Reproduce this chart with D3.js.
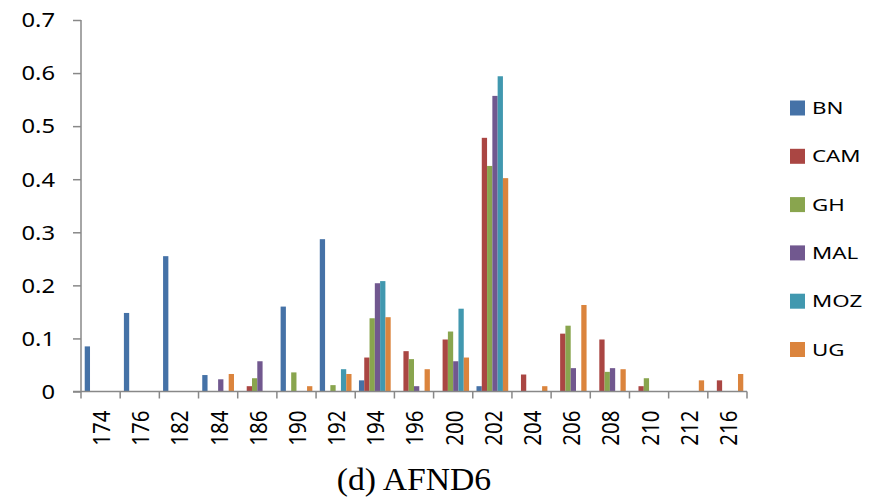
<!DOCTYPE html>
<html>
<head>
<meta charset="utf-8">
<script src="https://cdn.jsdelivr.net/npm/d3@7"></script>
<style>
  html, body { margin: 0; padding: 0; background: #fff; }
  svg { display: block; }
</style>
</head>
<body>
<svg id="chart" width="883" height="501"></svg>
<script>
// Allele sizes (categories) and allele frequencies per population
const categories = ["174","176","182","184","186","190","192","194","196","200","202","204","206","208","210","212","216"];
const seriesNames = ["BN","CAM","GH","MAL","MOZ","UG"];
const BN  = [0.085, 0.148, 0.255, 0.031, 0,     0.160, 0.287, 0.021, 0,     0,     0.010, 0,     0,     0,     0,     0,     0];
const CAM = [0,     0,     0,     0,     0.010, 0,     0,     0.064, 0.076, 0.098, 0.478, 0.032, 0.109, 0.098, 0.010, 0,     0.021];
const GH  = [0,     0,     0,     0,     0.025, 0.036, 0.012, 0.138, 0.061, 0.113, 0.425, 0,     0.124, 0.037, 0.025, 0,     0];
const MAL = [0,     0,     0,     0.023, 0.057, 0,     0,     0.204, 0.010, 0.057, 0.557, 0,     0.044, 0.044, 0,     0,     0];
const MOZ = [0,     0,     0,     0,     0,     0,     0.042, 0.208, 0,     0.156, 0.594, 0,     0,     0,     0,     0,     0];
const UG  = [0,     0,     0,     0.033, 0,     0.010, 0.033, 0.140, 0.042, 0.064, 0.402, 0.010, 0.163, 0.042, 0,     0.021, 0.033];
const yTicks = [0, 0.1, 0.2, 0.3, 0.4, 0.5, 0.6, 0.7];
const colors = ["#4572A7","#AA4643","#89A54E","#71588F","#4198AF","#DB843D"];
const title = "(d) AFND6";

const seriesValues = [BN, CAM, GH, MAL, MOZ, UG];

const svg = d3.select("#chart");
const plotLeft = 81, plotRight = 747, plotTop = 20, plotBottom = 391.5;
const axisColor = "#888888";
const sansFont = "'Noto Sans', 'Open Sans', sans-serif";
const stretch = 1.25;

const x0 = d3.scaleBand().domain(categories).range([plotLeft, plotRight]).padding(0);
const gap = x0.bandwidth() * 0.095;
const x1 = d3.scaleBand().domain(seriesNames).range([gap, x0.bandwidth() - gap]).padding(0);
const y = d3.scaleLinear().domain([0, 0.7]).range([plotBottom, plotTop]);
const color = d3.scaleOrdinal().domain(seriesNames).range(colors);

// Bars
const groups = svg.append("g").selectAll("g")
  .data(categories)
  .join("g")
  .attr("transform", d => `translate(${x0(d)},0)`);

groups.selectAll("rect")
  .data((c, i) => seriesNames.map((s, k) => ({ series: s, value: seriesValues[k][i] })).filter(d => d.value > 0))
  .join("rect")
  .attr("x", d => x1(d.series))
  .attr("width", x1.bandwidth())
  .attr("y", d => y(d.value))
  .attr("height", d => plotBottom - y(d.value))
  .attr("fill", d => color(d.series));

// Y axis
const yAxis = svg.append("g")
  .attr("transform", `translate(${plotLeft},0)`)
  .call(d3.axisLeft(y).tickValues(yTicks).tickSize(8).tickPadding(0).tickFormat(d => d === 0 ? "0" : d3.format(".1f")(d)));
yAxis.select(".domain").attr("stroke", axisColor).attr("stroke-width", 1.5).attr("d", `M0,${plotTop}V${plotBottom}`);
yAxis.selectAll(".tick line").attr("stroke", axisColor).attr("stroke-width", 1.5);
yAxis.selectAll(".tick text")
  .attr("font-family", sansFont)
  .attr("font-size", 19)
  .attr("fill", "#000")
  .attr("text-anchor", "end")
  .attr("x", 0)
  .attr("dy", "0.36em")
  .attr("transform", `translate(-26,0) scale(${stretch},1)`);

// X axis
const xAxis = svg.append("g")
  .attr("transform", `translate(0,${plotBottom})`)
  .call(d3.axisBottom(x0).tickSize(0).tickPadding(0));
xAxis.select(".domain").remove();
xAxis.append("path")
  .attr("d", `M${plotLeft - 8},0H${plotRight}`)
  .attr("stroke", axisColor)
  .attr("stroke-width", 1.5)
  .attr("fill", "none");
xAxis.selectAll(".boundary")
  .data(d3.range(categories.length + 1))
  .join("line")
  .attr("class", "boundary")
  .attr("x1", i => plotLeft + i * x0.step())
  .attr("x2", i => plotLeft + i * x0.step())
  .attr("y1", 0)
  .attr("y2", 7)
  .attr("stroke", axisColor)
  .attr("stroke-width", 1.5);
xAxis.selectAll(".tick text")
  .attr("font-family", sansFont)
  .attr("font-size", 20.5)
  .attr("fill", "#000")
  .attr("text-anchor", "end")
  .attr("x", 0)
  .attr("y", 0)
  .attr("dy", "0.36em")
  .attr("transform", `translate(1,19) scale(1.15,1) rotate(-90)`);

// Legend
const legend = svg.append("g").attr("transform", "translate(790,108)");
const items = legend.selectAll("g")
  .data(seriesNames)
  .join("g")
  .attr("transform", (d, i) => `translate(0,${i * 48.3})`);
items.append("rect")
  .attr("x", 0).attr("y", -7.5)
  .attr("width", 15).attr("height", 15)
  .attr("fill", d => color(d));
items.append("text")
  .attr("transform", `translate(22,0) scale(1.33,1)`)
  .attr("dy", "0.36em")
  .attr("font-family", sansFont)
  .attr("font-size", 16.8)
  .attr("fill", "#000")
  .text(d => d);

// Caption
svg.append("text")
  .attr("transform", "translate(414,490) scale(1.07,1)")
  .attr("text-anchor", "middle")
  .attr("font-family", "'Liberation Serif', 'Times New Roman', serif")
  .attr("font-size", 31.5)
  .attr("fill", "#000")
  .text(title);
</script>
</body>
</html>
